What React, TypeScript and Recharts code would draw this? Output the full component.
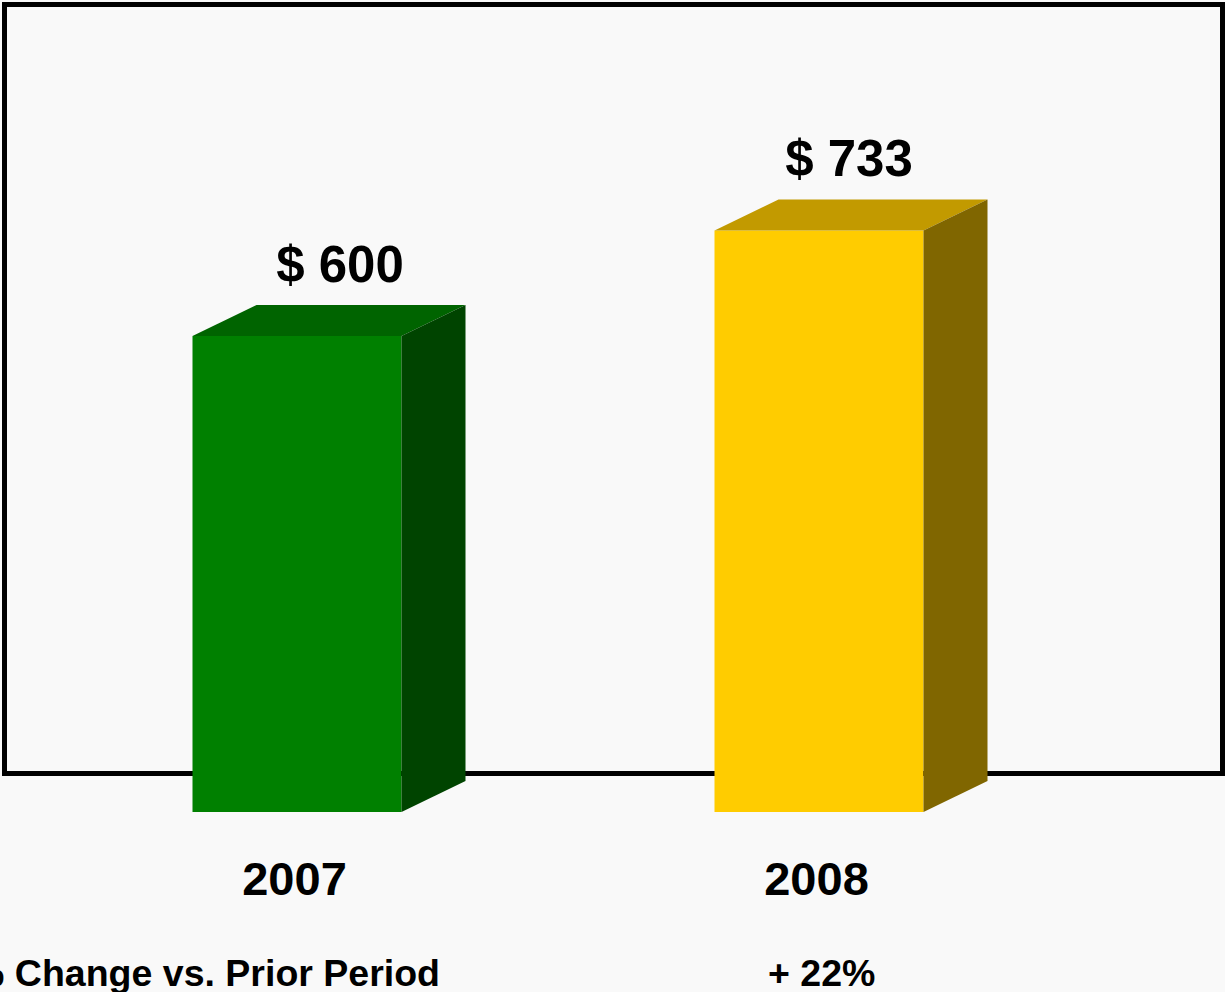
import { Bar, BarChart, LabelList, XAxis, YAxis } from 'recharts'

const years = ['2007', '2008']
const spend = [600, 733]
const changeLabel = '% Change vs. Prior Period'
const changeValue = '+ 22%'

const FRONT = ['#008000', '#ffcc00']
const TOP = ['#006400', '#c29a00']
const SIDE = ['#004400', '#806600']
const LABEL_DX = [43, 30]

const DEPTH_X = 64
const DEPTH_Y = 31
const FONT = '"Liberation Sans", Arial, sans-serif'

const data = years.map((year, i) => ({ year, value: spend[i] }))

// 3D-ish bar: front face + top + right side
function Box3D(props: any) {
  const { x, y, width, height, index } = props
  const i = index ?? 0
  const r = x + width
  const b = y + height
  return (
    <g>
      <rect x={x} y={y} width={width} height={height} fill={FRONT[i]} />
      <polygon
        points={`${x},${y} ${x + DEPTH_X},${y - DEPTH_Y} ${r + DEPTH_X},${y - DEPTH_Y} ${r},${y}`}
        fill={TOP[i]}
      />
      <polygon
        points={`${r},${y} ${r + DEPTH_X},${y - DEPTH_Y} ${r + DEPTH_X},${b - DEPTH_Y} ${r},${b}`}
        fill={SIDE[i]}
      />
    </g>
  )
}

function ValueLabel(props: any) {
  const { x, y, width, value, index } = props
  return (
    <text
      x={x + width / 2 + (LABEL_DX[index ?? 0] ?? 36)}
      y={y - 54}
      textAnchor="middle"
      fontFamily={FONT}
      fontWeight="bold"
      fontSize={51}
      fill="#000"
    >
      {`$ ${value}`}
    </text>
  )
}

function YearTick(props: any) {
  const { x, y, payload } = props
  return (
    <text
      x={x - 2}
      y={y + 75}
      textAnchor="middle"
      fontFamily={FONT}
      fontWeight="bold"
      fontSize={47}
      fill="#000"
    >
      {payload.value}
    </text>
  )
}

export default function App() {
  return (
    <div
      style={{
        position: 'absolute',
        left: 0,
        top: 0,
        width: 1225,
        height: 992,
        background: '#f9f9f9',
        overflow: 'hidden',
      }}
    >
      <div
        style={{
          position: 'absolute',
          left: 2,
          top: 2,
          width: 1223,
          height: 774,
          border: '5px solid #000',
          boxSizing: 'border-box',
        }}
      />
      <div style={{ position: 'absolute', left: 0, top: 0 }}>
        <BarChart
          width={1225}
          height={992}
          data={data}
          margin={{ top: 18.67, right: 145.5, bottom: 0, left: 35.5 }}
        >
          <XAxis
            dataKey="year"
            height={180}
            axisLine={false}
            tickLine={false}
            tick={<YearTick />}
            interval={0}
          />
          <YAxis hide domain={[0, 1000]} />
          <Bar dataKey="value" barSize={209} shape={<Box3D />} isAnimationActive={false}>
            <LabelList dataKey="value" content={<ValueLabel />} />
          </Bar>
        </BarChart>
      </div>
      <svg
        width={1225}
        height={992}
        style={{ position: 'absolute', left: 0, top: 0, pointerEvents: 'none' }}
      >
        <text x={440} y={986} textAnchor="end" fontFamily={FONT} fontWeight="bold" fontSize={37.5} fill="#000">
          {changeLabel}
        </text>
        <text x={768} y={986} fontFamily={FONT} fontWeight="bold" fontSize={37.5} fill="#000">
          {changeValue}
        </text>
      </svg>
    </div>
  )
}
